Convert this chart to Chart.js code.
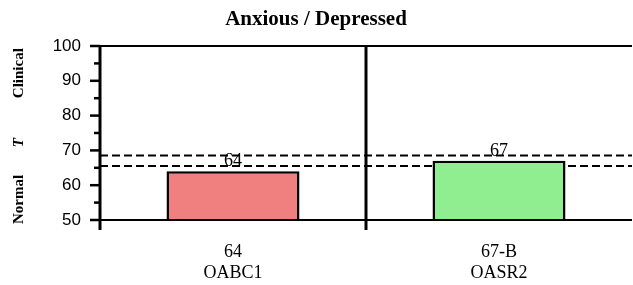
<!DOCTYPE html>
<html>
<head>
<meta charset="utf-8">
<script src="https://cdn.jsdelivr.net/npm/chart.js@4"></script>
<style>
  html, body { margin: 0; padding: 0; background: #fff; }
  #wrap { width: 633px; height: 285px; }
</style>
</head>
<body>
<div id="wrap"><canvas id="chart"></canvas></div>
<script>
// data
const categories = [['64', 'OABC1'], ['67-B', 'OASR2']];
const scores = [64, 67];
const barColors = ['#F08080', '#90EE90'];
const cutoffs = [68.5, 65.5];
const yTicks = [50, 55, 60, 65, 70, 75, 80, 85, 90, 95, 100];
const sideLabels = [
  { text: 'Clinical', value: 92.2, italic: false },
  { text: 'T', value: 72.2, italic: true },
  { text: 'Normal', value: 55.9, italic: false }
];

const serif = '"Liberation Serif", "Times New Roman", serif';
const sans = '"Liberation Sans", Arial, sans-serif';

// axes, dividers, cutoff lines and labels
const framePlugin = {
  id: 'frame',
  beforeDatasetsDraw(chart) {
    const { ctx, chartArea: a, scales: { y } } = chart;
    ctx.save();
    ctx.strokeStyle = '#000';
    ctx.setLineDash([8, 4]);
    ctx.lineWidth = 2;
    cutoffs.forEach(v => {
      const py = y.getPixelForValue(v);
      ctx.beginPath();
      ctx.moveTo(a.left, py);
      ctx.lineTo(a.right, py);
      ctx.stroke();
    });
    ctx.restore();
  },
  afterDatasetsDraw(chart) {
    const { ctx, chartArea: a, scales: { x, y } } = chart;
    ctx.save();
    ctx.strokeStyle = '#000';
    // top and bottom lines
    ctx.lineWidth = 2;
    [100, 50].forEach(v => {
      const py = y.getPixelForValue(v);
      ctx.beginPath();
      ctx.moveTo(a.left, py);
      ctx.lineTo(a.right, py);
      ctx.stroke();
    });
    // y axis and category divider
    ctx.lineWidth = 3;
    const top = y.getPixelForValue(100) - 1;
    const bot = y.getPixelForValue(50) + 10;
    [a.left, x.getPixelForValue(0.5)].forEach(px => {
      ctx.beginPath();
      ctx.moveTo(px, top);
      ctx.lineTo(px, bot);
      ctx.stroke();
    });
    // ticks
    ctx.lineWidth = 2.5;
    yTicks.forEach(v => {
      const py = y.getPixelForValue(v);
      const len = v % 10 === 0 ? 10 : 6;
      ctx.beginPath();
      ctx.moveTo(a.left - len, py);
      ctx.lineTo(a.left, py);
      ctx.stroke();
    });
    // value labels
    ctx.fillStyle = '#000';
    ctx.font = '18px ' + serif;
    ctx.textAlign = 'center';
    ctx.textBaseline = 'alphabetic';
    chart.getDatasetMeta(0).data.forEach((bar, i) => {
      ctx.fillText(String(scores[i]), bar.x, bar.y - 5);
    });
    // side labels
    sideLabels.forEach(s => {
      ctx.save();
      ctx.translate(19, y.getPixelForValue(s.value));
      ctx.rotate(-Math.PI / 2);
      ctx.font = (s.italic ? 'italic ' : '') + 'bold 15px ' + serif;
      ctx.textAlign = 'center';
      ctx.textBaseline = 'middle';
      ctx.fillText(s.text, 0, 0);
      ctx.restore();
    });
    ctx.restore();
  }
};

new Chart(document.getElementById('chart'), {
  type: 'bar',
  data: {
    labels: categories,
    datasets: [{
      data: scores,
      backgroundColor: barColors,
      borderColor: '#000',
      borderWidth: 2.5,
      borderSkipped: false,
      barPercentage: 0.5,
      categoryPercentage: 1
    }]
  },
  options: {
    responsive: true,
    maintainAspectRatio: false,
    animation: false,
    layout: { padding: { left: 0, right: 1, top: 0, bottom: 0 } },
    plugins: {
      legend: { display: false },
      tooltip: { enabled: false },
      title: {
        display: true,
        text: 'Anxious / Depressed',
        color: '#000',
        font: { family: serif, size: 21, weight: 'bold', lineHeight: 1.2 },
        padding: { top: 7, bottom: 13.8 }
      }
    },
    scales: {
      x: {
        grid: { display: false, drawTicks: false },
        border: { display: false },
        ticks: { color: '#000', font: { family: serif, size: 18, lineHeight: 1.15 }, padding: 22, maxRotation: 0 },
        afterFit(s) { s.height = 65; }
      },
      y: {
        min: 50, max: 100,
        grid: { display: false, drawTicks: false },
        border: { display: false },
        ticks: {
          stepSize: 5,
          color: '#000',
          padding: 19,
          font: { family: sans, size: 17 },
          callback: v => (v % 10 === 0 ? v : '')
        },
        afterFit(s) { s.width = 100; }
      }
    }
  },
  plugins: [framePlugin]
});
</script>
</body>
</html>
